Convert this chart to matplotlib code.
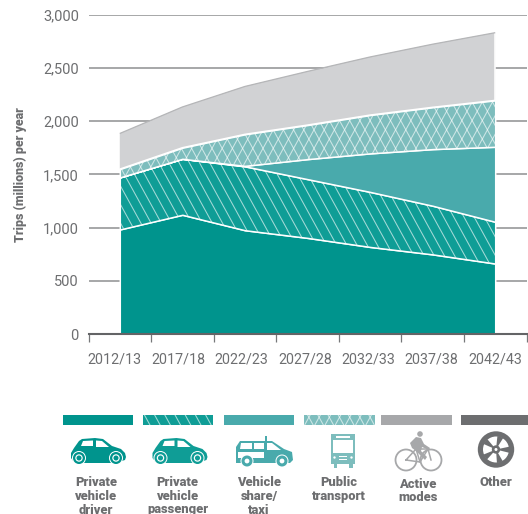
import numpy as np
import matplotlib
matplotlib.use('Agg')
import matplotlib.pyplot as plt
from matplotlib.collections import LineCollection
from matplotlib.patches import Rectangle, Circle, Polygon, Wedge
from matplotlib.path import Path

plt.rcParams['font.family'] = ['Roboto', 'DejaVu Sans']

years = ['2012/13', '2017/18', '2022/23', '2027/28', '2032/33', '2037/38', '2042/43']
yticks = [0, 500, 1000, 1500, 2000, 2500, 3000]

driver = [982, 1120, 975, 903, 818, 748, 662]
passenger = [489, 526, 600, 552, 517, 457, 392]
share = [0, 0, 5, 188, 362, 532, 705]
public = [78, 104, 296, 320, 360, 393, 436]
active = [332, 380, 447, 501, 543, 590, 633]
other = [3, 3, 3, 3, 3, 3, 3]

labels = ['Private\nvehicle\ndriver', 'Private\nvehicle\npassenger', 'Vehicle\nshare/\ntaxi',
          'Public\ntransport', 'Active\nmodes', 'Other']

C_DRIVER = '#00948d'
C_PASS = '#0f9d96'
C_SHARE = '#49aaac'
C_PUBLIC = '#7dbdbd'
C_ACTIVE = '#d1d2d4'
C_OTHER = '#a7a8aa'
C_TEXT = '#6d6e70'
W, H = 528, 514

fig = plt.figure(figsize=(W/100, H/100), dpi=100)
ax = fig.add_axes([88.5/W, 1-334/H, 438/W, (334-14.7)/H])
# overlay in pixel coords, for hatching + legend
ov = fig.add_axes([0, 0, 1, 1], zorder=5)
ov.set_xlim(0, W)
ov.set_ylim(H, 0)
ov.axis('off')
ov.patch.set_alpha(0)

x = np.arange(len(years))
polys = ax.stackplot(x, driver, passenger, share, public, active, other,
                     colors=[C_DRIVER, C_PASS, C_SHARE, C_PUBLIC, C_ACTIVE, C_OTHER],
                     edgecolor='white', linewidth=1.1, zorder=3)
polys[4].set_edgecolor('none')
polys[5].set_edgecolor('none')
# public/active boundary still needs its white line
public_top = np.sum([driver, passenger, share, public], axis=0)
ax.plot(x, public_top, color='white', lw=1.1, zorder=4)
ax.plot([6, 6], [public_top[6], public_top[6] + active[6]], color='white', lw=1.1, zorder=4)
total = np.sum([driver, passenger, share, public, active, other], axis=0)
ax.plot(x, total, color='#b5b6b8', lw=0.9, zorder=4, solid_capstyle='butt')

ax.set_xlim(-0.5, 6.5)
ax.set_ylim(0, 3000)
ax.set_yticks(yticks)
ax.set_yticklabels([f'{v:,}' for v in yticks], fontsize=10.5, color=C_TEXT, va='center_baseline')
ax.set_xticks(np.arange(-0.5, 7, 1))
ax.set_xticklabels([])
# the year labels sit a little left of the band centres in the original
label_shift = [-0.08, -0.07, -0.06, -0.04, -0.03, -0.02, 0]
ax.set_xticks(x + np.array(label_shift), minor=True)
ax.set_xticklabels(years, minor=True, fontsize=10.3, color=C_TEXT)
ax.tick_params(axis='y', length=0, pad=7)
ax.tick_params(axis='x', which='major', length=5.8, width=0.9, color='#77787a')
ax.tick_params(axis='x', which='minor', length=0, pad=13)
ax.yaxis.grid(True, color='#8e8f91', lw=1.1, zorder=1)
ax.set_axisbelow(True)
for s in ['top', 'left', 'right']:
    ax.spines[s].set_visible(False)
ax.spines['bottom'].set_color('#636466')
ax.spines['bottom'].set_linewidth(1.5)
ax.spines['bottom'].set_zorder(6)

fig.text(20/W, 1-175/H, 'Trips (millions) per year', rotation=90, ha='center', va='center',
         fontsize=8.9, fontweight='heavy', color=C_TEXT)


def hatch_lines(clip, transform, sign=1, dx=10.2):
    # steep white hatch, clipped to the shape it belongs to
    starts = np.arange(-400, 900, dx)
    segs = [[(s, 0), (s + sign*0.55*H, H)] for s in starts]
    lc = LineCollection(segs, colors='white', linewidths=0.75, alpha=0.62)
    ov.add_collection(lc)
    lc.set_clip_path(clip, transform)


def rect_path(a, b, top, h):
    return Path([(a, top), (b, top), (b, top+h), (a, top+h), (a, top)])


hatch_lines(polys[1].get_paths()[0], ax.transData)
hatch_lines(polys[3].get_paths()[0], ax.transData)
hatch_lines(polys[3].get_paths()[0], ax.transData, sign=-1)

# legend swatches
sw_x = [(63, 132.5), (143, 212.7), (224, 294), (304, 374.7), (381, 452), (461, 528)]
sw_c = [C_DRIVER, C_PASS, C_SHARE, C_PUBLIC, C_OTHER, C_TEXT]
for i, ((a, b), c) in enumerate(zip(sw_x, sw_c)):
    ov.add_patch(Rectangle((a, 414.7), b-a, 10, fc=c, ec='none'))
    if i == 1:
        hatch_lines(rect_path(a, b, 414.7, 10), ov.transData)
    if i == 3:
        hatch_lines(rect_path(a, b, 414.7, 10), ov.transData)
        hatch_lines(rect_path(a, b, 414.7, 10), ov.transData, sign=-1)


def wheel(cx, cy, r, c, solid=True):
    ov.add_patch(Circle((cx, cy), r+1, fc='white', ec='none', zorder=3))
    if solid:
        ov.add_patch(Circle((cx, cy), r, fc=c, ec='none', zorder=3))
        ov.add_patch(Circle((cx, cy), r*0.62, fc='white', ec='none', zorder=3))
        ov.add_patch(Circle((cx, cy), r*0.42, fc=c, ec='none', zorder=3))
    else:
        ov.add_patch(Circle((cx, cy), r*0.72, fc='white', ec=c, lw=2.2, zorder=3))


def car(x0, c):
    body = [(0, 19), (0, 14), (3, 9), (8, 2), (11, 0), (24, -1), (32, 0), (41, 7), (50, 10), (54, 14), (55, 18),
            (54, 21), (44, 24), (10, 24), (3, 23)]
    ov.add_patch(Polygon([(x0+a, 439+b) for a, b in body], fc=c, ec='none'))
    for win in [[(10, 7), (12, 2), (22, 1.5), (22, 7)], [(25, 1.5), (31, 2), (38, 8), (25, 8)]]:
        ov.add_patch(Polygon([(x0+a, 439+b) for a, b in win], fc='white', ec='none'))
    wheel(x0+8, 458, 6, c)
    wheel(x0+45, 458, 6, c)


car(71, C_DRIVER)
car(152.5, C_PASS)

# van
van = [(236, 463), (236, 447), (240, 441), (272, 441), (284, 449), (292, 452), (293, 460), (290, 463)]
ov.add_patch(Polygon(van, fc=C_SHARE, ec='none'))
ov.add_patch(Rectangle((265, 436), 1.8, 6, fc=C_SHARE, ec='none'))
for w in [[(240, 449), (241, 443), (252, 443), (252, 449)], [(254, 443), (264, 443), (264, 449), (254, 449)],
          [(267, 443), (272, 443), (281, 450), (267, 450)]]:
    ov.add_patch(Polygon(w, fc='white', ec='none'))
ov.add_patch(Rectangle((238, 452), 26, 6, fc='white', ec='none'))
wheel(247, 461, 5.5, C_SHARE, solid=False)
wheel(282, 461, 5.5, C_SHARE, solid=False)

# bus
ov.add_patch(Rectangle((331, 434), 24, 30, fc=C_PUBLIC, ec='none'))
ov.add_patch(Rectangle((333.5, 464), 3.5, 4, fc=C_PUBLIC, ec='none'))
ov.add_patch(Rectangle((349, 464), 3.5, 4, fc=C_PUBLIC, ec='none'))
ov.add_patch(Rectangle((333, 440), 20, 13, fc='white', ec='none'))
ov.add_patch(Rectangle((336, 436), 14, 1.6, fc='white', ec='none'))
ov.add_patch(Rectangle((339, 455.5), 8, 1.2, fc='white', ec='none'))
ov.add_patch(Rectangle((339, 458.5), 8, 1.2, fc='white', ec='none'))
ov.add_patch(Circle((334.5, 457.5), 1.2, fc='white', ec='none'))
ov.add_patch(Circle((351.5, 457.5), 1.2, fc='white', ec='none'))

# bike
for cx in [406, 431]:
    ov.add_patch(Circle((cx, 460), 10.5, fc='none', ec=C_OTHER, lw=1.3))
ov.plot([406, 416, 428, 420, 406], [460, 449, 449, 462, 460], color=C_OTHER, lw=1.1)
ov.plot([428, 431], [449, 460], color=C_OTHER, lw=1.1)
ov.plot([416, 420], [449, 462], color=C_OTHER, lw=1.1)
ov.add_patch(Circle((420, 434), 2.8, fc=C_OTHER, ec='none'))
ov.add_patch(Polygon([(412, 448), (410, 443), (416, 437), (421, 438), (424, 444), (430, 448), (429, 450),
                      (422, 447), (421, 451), (427, 457), (425, 460), (416, 451)], fc=C_OTHER, ec='none'))

# tyre
ov.add_patch(Circle((496, 449.5), 18.2, fc=C_TEXT, ec='none'))
ov.add_patch(Circle((496, 449.5), 13, fc='white', ec='none'))
for a in np.arange(0, 360, 72):
    ov.add_patch(Wedge((496, 449.5), 13.5, a+60, a+86, fc=C_TEXT, ec='none'))
ov.add_patch(Circle((496, 449.5), 4.2, fc=C_TEXT, ec='none'))
ov.add_patch(Circle((496, 449.5), 1.5, fc='white', ec='none'))

# legend labels
lab_x = [96, 177.7, 259, 339, 417.7, 496]
lab_y = [483, 483, 483, 483, 484.3, 482]
for lx, ly, t in zip(lab_x, lab_y, labels):
    for j, line in enumerate(t.split('\n')):
        ov.text(lx, ly + j*13.5, line, ha='center', va='center', fontsize=9.3, fontweight='heavy', color=C_TEXT)

fig.savefig('out.png', dpi=100)
